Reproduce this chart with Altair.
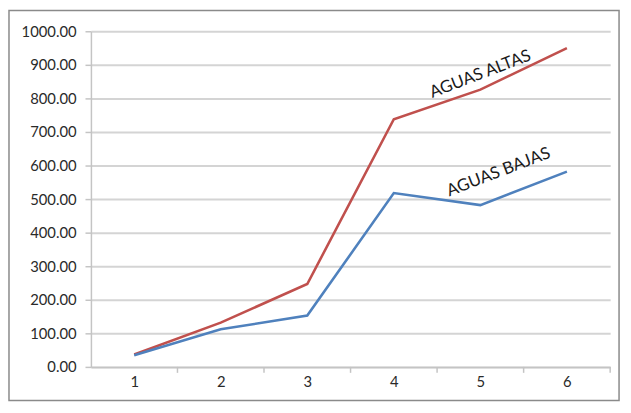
import altair as alt
import pandas as pd

categories = [1, 2, 3, 4, 5, 6]
altas = [37, 132, 247, 738, 826, 950]
bajas = [35, 112, 153, 518, 482, 582]
series_names = ["AGUAS ALTAS", "AGUAS BAJAS"]
colors = ["#C0504D", "#4F81BD"]
y_ticks = [0, 100, 200, 300, 400, 500, 600, 700, 800, 900, 1000]
boundaries = [1.5, 2.5, 3.5, 4.5, 5.5, 6.5]

rows = []
for c, a, b in zip(categories, altas, bajas):
    rows.append({"x": c, "y": a, "s": series_names[0]})
    rows.append({"x": c, "y": b, "s": series_names[1]})
df = pd.DataFrame(rows)

labels = pd.DataFrame({
    "x": [5.0, 5.21],
    "y": [872, 580],
    "t": series_names,
})

W, H = 526, 340
xscale = alt.Scale(domain=[0.5, 6.5], nice=False, zero=False)
yscale = alt.Scale(domain=[0, 1000], nice=False)

x_axis = alt.Axis(values=categories, title=None, grid=False, ticks=False,
                  labelFont="Lato", labelFontSize=15, labelColor="#2a2a2a",
                  labelPadding=8, domainColor="#c4c4c4", domainWidth=1.5,
                  labelOverlap=False, format="d")
y_axis = alt.Axis(values=y_ticks, title=None, format=".2f",
                  labelFont="Lato", labelFontSize=15, labelColor="#2a2a2a",
                  tickSize=6, tickColor="#c4c4c4", tickWidth=1.5,
                  labelPadding=9, domainColor="#c4c4c4", domainWidth=1.5,
                  labelOverlap=False, labelBound=False, labelFlush=False,
                  gridColor="#d4d4d4", gridWidth=2)

lines = alt.Chart(df).mark_line(strokeWidth=2.6).encode(
    x=alt.X("x:Q", scale=xscale, axis=x_axis),
    y=alt.Y("y:Q", scale=yscale, axis=y_axis),
    color=alt.Color("s:N", scale=alt.Scale(domain=series_names, range=colors), legend=None),
)

ticks = alt.Chart(pd.DataFrame({"x": boundaries})).mark_rule(
    color="#c4c4c4", strokeWidth=1.5, clip=False
).encode(
    x=alt.X("x:Q", scale=xscale, axis=x_axis),
    y=alt.value(H),
    y2=alt.value(H + 6),
)

text = alt.Chart(labels).mark_text(
    font="Lato", fontSize=17, angle=339, color="#1a1a1a"
).encode(
    x=alt.X("x:Q", scale=xscale, axis=x_axis),
    y=alt.Y("y:Q", scale=yscale, axis=y_axis),
    text="t:N",
)

border = alt.Chart(pd.DataFrame({"k": [0]})).mark_rect(
    fill=None, stroke="#8a8a8a", strokeWidth=1.5, clip=False
).encode(
    x=alt.value(-83),
    x2=alt.value(W + 9),
    y=alt.value(-21),
    y2=alt.value(H + 34),
)

chart = alt.layer(border, lines, ticks, text).properties(
    width=W, height=H,
    autosize=alt.AutoSizeParams(type="none"),
    padding={"left": 84, "top": 21, "right": 13, "bottom": 36},
).configure_view(stroke=None)

chart.save("out.html", embed_options={"renderer": "svg", "actions": False})
